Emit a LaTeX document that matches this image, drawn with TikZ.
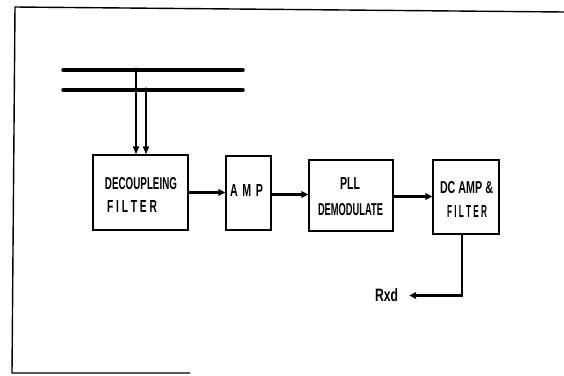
\documentclass[tikz,border=0pt]{standalone}
\usepackage{fontspec}
\usepackage{graphicx}
\setmainfont{Liberation Sans}
\usetikzlibrary{arrows.meta}
\newcommand\fitw[2]{\resizebox{#1pt}{12pt}{\bfseries #2}}
\tikzset{
  blk/.style={draw, line width=1.3pt, inner sep=0pt},
  lbl/.style={inner sep=0pt},
  bus/.style={line width=3.5pt, line cap=round},
  sig/.style={line width=3pt, -{Triangle[length=7pt,width=6.5pt]}},
  tap/.style={line width=1.8pt, -{Triangle[length=8pt,width=6pt]}},
  frame/.style={line width=1.4pt},
  dot/.style={circle, fill, inner sep=0pt, minimum size=5pt}
}
\begin{document}
\begin{tikzpicture}[x=1pt,y=-1pt]
\useasboundingbox (0,0) rectangle (564,375);
% frame
\coordinate (f1) at (15,7);
\coordinate (f2) at (564,12);
\coordinate (f3) at (12,373);
\coordinate (f4) at (190,373);
\draw[frame] (f2) -- (f1) -- (f3) -- (f4);
% boxes
\node[blk, minimum width=95pt, minimum height=75pt] (dec) at (140.5,192.5) {};
\node[blk, minimum width=45pt, minimum height=74pt] (amp) at (248.5,193) {};
\node[blk, minimum width=84pt, minimum height=71pt] (pll) at (351,195.5) {};
\node[blk, minimum width=66pt, minimum height=74pt] (dc) at (466,197) {};
% labels
\node[lbl] (t1) at (141,184) {\fitw{72}{DECOUPLEING}};
\node[lbl] (t2) at (132,206.5) {\fitw{50}{F I L T E R}};
\node[lbl] (t3) at (246.5,190.5) {\fitw{33}{A\,  M\,  P}};
\node[lbl] (t4) at (350,183.5) {\fitw{20}{PLL}};
\node[lbl] (t5) at (350.5,210) {\fitw{65}{DEMODULATE}};
\node[lbl] (t6) at (466.5,187.5) {\fitw{53}{DC AMP \&}};
\node[lbl] (t7) at (467,211.5) {\fitw{40}{F I L T E R}};
\node[lbl] (rxd) at (386.5,295.5) {\resizebox{23pt}{13pt}{\bfseries Rxd}};
% bus lines
\coordinate (b1l) at (63,70);
\coordinate (b1r) at (243,70);
\coordinate (b2l) at (63,90);
\coordinate (b2r) at (243,90);
\draw[bus] (b1l) -- (b1r);
\draw[bus] (b2l) -- (b2r);
\node[dot] (j1) at (136,70) {};
\node[dot] (j2) at (146,90) {};
\draw[tap] (j1.center) -- (j1 |- dec.north);
\draw[tap] (j2.center) -- (j2 |- dec.north);
% signal arrows
\coordinate (a2s) at (amp.east |- 0,194.5);
\coordinate (a3s) at (pll.east |- 0,196.5);
\draw[sig] (dec.east) -- (dec.east -| amp.west);
\draw[sig] (a2s) -- (a2s -| pll.west);
\draw[sig] (a3s) -- (a3s -| dc.west);
\coordinate (out) at ([xshift=-4pt]dc.south);
\draw[sig, line width=2.6pt, shorten >=11pt] (out) |- (rxd.east);
\end{tikzpicture}
\end{document}
